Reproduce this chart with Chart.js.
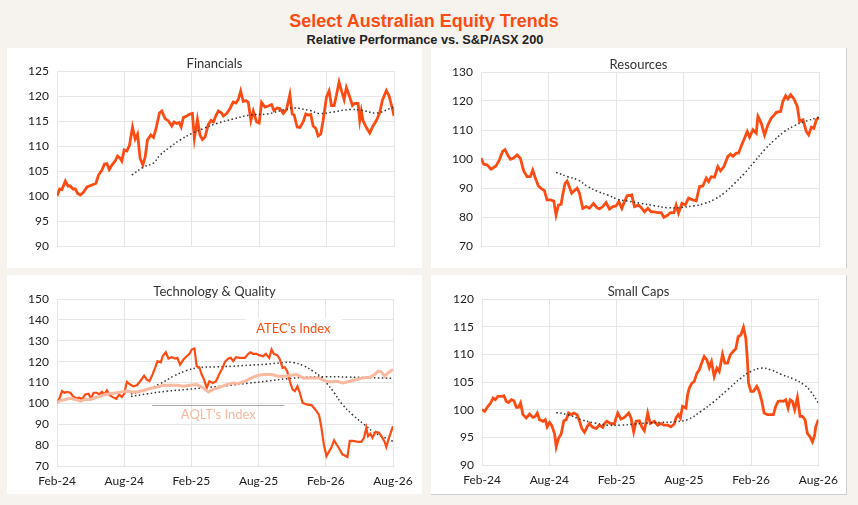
<!DOCTYPE html>
<html>
<head>
<meta charset="utf-8">
<script src="https://cdn.jsdelivr.net/npm/chart.js@4.4.0/dist/chart.umd.min.js"></script>
<style>
  body { margin: 0; background: #f6f3ef; width: 858px; height: 505px; overflow: hidden; position: relative; font-family: Lato, sans-serif; }
  #title { position: absolute; left: 0; width: 848px; top: 11px; text-align: center; font: bold 18px "Liberation Sans", Arial, sans-serif; color: #fc4c14; }
  #subtitle { position: absolute; left: 0; width: 850px; top: 32px; text-align: center; font: bold 12.8px "Liberation Sans", Arial, sans-serif; color: #222; }
  .panel { position: absolute; background: #fff; box-sizing: border-box; }
  .panel canvas { display: block; }
  #p1 { left: 7px; top: 48px; width: 415px; height: 220px; }
  #p2 { left: 431px; top: 48px; width: 416px; height: 220px; border-right: 1px solid #cfcfcf; }
  #p3 { left: 7px; top: 275px; width: 415px; height: 219px; }
  #p4 { left: 431px; top: 275px; width: 416px; height: 220px; border-right: 1px solid #cfcfcf; border-bottom: 1px solid #cfcfcf; }
</style>
</head>
<body>
<div id="title">Select Australian Equity Trends</div>
<div id="subtitle">Relative Performance vs. S&amp;P/ASX 200</div>
<div class="panel" id="p1"><canvas id="c1" width="415" height="220"></canvas></div>
<div class="panel" id="p2"><canvas id="c2" width="415" height="220"></canvas></div>
<div class="panel" id="p3"><canvas id="c3" width="415" height="219"></canvas></div>
<div class="panel" id="p4"><canvas id="c4" width="415" height="219"></canvas></div>
<script>
// x = months since Feb-24
const tickLabels = ["Feb-24", "Aug-24", "Feb-25", "Aug-25", "Feb-26", "Aug-26"];

// Financials
const finMonths = [0,0.24,0.44,0.74,0.98,1.18,1.42,1.63,1.84,2.07,2.37,2.67,3.11,3.46,3.70,4.00,4.23,4.44,4.65,4.89,5.18,5.39,5.63,5.77,5.98,6.22,6.46,6.72,6.96,7.17,7.40,7.64,7.85,8.05,8.35,8.59,8.82,9.12,9.33,9.62,9.92,10.22,10.42,10.66,10.87,11.05,11.25,11.55,11.84,12.05,12.23,12.50,12.73,12.94,13.18,13.47,13.71,13.92,14.15,14.36,14.66,14.81,15.10,15.40,15.69,15.93,16.14,16.35,16.58,16.82,17.03,17.26,17.47,17.77,18.00,18.21,18.51,18.80,19.10,19.31,19.60,19.84,20.14,20.43,20.73,20.94,21.11,21.38,21.62,21.91,22.15,22.36,22.59,22.80,23.04,23.25,23.48,23.69,23.99,24.22,24.43,24.67,24.87,25.11,25.32,25.56,25.76,26.06,26.30,26.50,26.80,26.95,27.09,27.24,27.54,27.84,28.13,28.43,28.72,28.96,29.32,29.55,29.85,30];
const finValues = [100,101.4,101.3,103.0,102.0,102.0,101.4,101.4,100.5,100.2,100.8,101.8,102.2,102.5,104.2,105.2,106.4,106.5,105.3,106.2,107.0,108.0,107.5,107.0,109.2,109.0,110.2,113.8,111.4,112.4,107.5,106.2,107.8,111.2,112.2,111.7,113.5,116.6,117.0,115.5,115.0,114.0,114.8,114.5,114.7,113.8,115.7,116.0,116.4,116.5,111.5,115.3,112.2,111.3,111.8,114.3,115.1,114.8,116.1,117.0,116.6,116.0,116.5,117.5,118.8,118.6,119.3,121.0,118.9,119.1,118.7,115.1,117.0,114.8,114.6,118.7,117.8,118.0,118.3,117.1,117.6,117.5,116.5,117.3,120.3,116.4,116.2,113.8,113.7,114.8,116.4,116.2,116.3,114.0,113.5,112.0,112.4,115.1,119.8,121.0,118.1,118.1,120.1,122.8,121.1,119.3,121.7,119.8,118.1,118.5,118.5,115.1,117.0,115.1,113.7,112.6,114.0,115.1,116.6,119.1,121.1,120.1,117.5,116.0];
const finAvgMonths = [6.66,7.70,8.59,9.18,10.07,10.96,11.99,13.03,14.21,15.69,17.18,18.66,20.14,21.02,22.51,23.39,24.58,26.06,27.24,28.43,30];
const finAvgValues = [104.2,105.8,106.6,108.2,109.8,111.2,112.5,113.5,114.5,115.4,116.2,116.4,117.2,117.6,117.1,116.5,116.8,117.3,117.1,116.6,117.8];

// Resources
const resMonths = [0,0.24,0.53,0.89,1.33,1.63,1.92,2.13,2.37,2.61,2.90,3.20,3.49,3.79,4.09,4.38,4.59,4.80,5.09,5.33,5.63,5.86,6.16,6.46,6.66,6.87,7.11,7.25,7.46,7.64,7.85,8.05,8.29,8.53,8.74,9.03,9.33,9.62,9.98,10.28,10.51,10.81,11.10,11.40,11.70,11.99,12.23,12.50,12.73,12.97,13.38,13.62,13.98,14.21,14.51,14.81,15.10,15.40,15.69,15.99,16.23,16.52,16.82,17.12,17.32,17.53,17.83,18.12,18.42,18.80,19.10,19.40,19.69,19.99,20.20,20.43,20.73,21.02,21.26,21.56,21.91,22.15,22.36,22.65,22.86,23.10,23.33,23.63,23.84,24.13,24.43,24.58,24.87,25.17,25.47,25.76,26.06,26.21,26.59,26.80,27.04,27.24,27.48,27.78,28.07,28.28,28.58,28.87,29.08,29.32,29.55,29.76,30];
const resValues = [100.3,98.2,98.0,96.5,97.6,99.7,102.6,103.2,101.4,99.9,100.3,101.4,100.3,95.9,93.9,93.9,96.2,93.7,90.7,89.9,89.1,85.9,85.9,85.5,80.7,84.1,84.4,87.6,91.6,92.4,90.3,88.2,89.1,89.9,88.2,83.0,83.6,83.0,84.7,83.2,82.8,83.6,85.0,82.7,83.6,83.8,85.3,83.0,85.3,87.3,87.6,83.6,84.1,83.3,81.8,83.0,81.8,81.8,81.5,81.5,79.9,80.5,81.5,81.5,84.1,81.3,84.7,84.1,86.5,85.9,85.6,90.5,90.7,93.4,92.2,93.9,93.7,97.4,95.9,97.4,100.9,101.7,100.9,102.0,102.0,104.5,106.6,109.5,107.5,110.1,108.9,114.7,112.4,108.3,111.8,114.1,115.3,116.1,116.4,119.9,121.8,120.7,122.2,120.7,118.1,112.9,113.5,109.5,108.3,111.0,110.6,113.5,114.3];
const resAvgMonths = [6.66,7.70,8.59,9.48,10.36,11.25,12.14,13.03,14.21,15.40,16.58,17.77,18.95,19.84,20.73,21.62,22.51,23.39,24.28,25.17,26.06,26.95,27.84,28.72,30];
const resAvgValues = [95.4,93.9,92.8,90.5,88.8,87.6,86.1,85.5,84.7,83.9,83.2,83.3,83.9,84.7,86.1,88.4,91.6,95.1,99.1,103.2,106.6,109.5,111.5,112.9,114.4];

// Technology & Quality
const atecMonths = [0,0.24,0.45,0.65,0.89,1.19,1.43,1.72,2.02,2.23,2.52,2.82,3.03,3.27,3.56,3.77,4.01,4.22,4.46,4.69,4.99,5.29,5.55,5.79,6.00,6.24,6.53,6.83,7.13,7.43,7.78,8.02,8.26,8.55,8.76,8.97,9.27,9.44,9.71,9.95,10.25,10.54,10.75,10.99,11.29,11.58,11.82,12.03,12.27,12.47,12.71,12.92,13.13,13.37,13.60,13.90,14.20,14.49,14.79,15.00,15.30,15.51,15.74,15.98,16.28,16.78,17.08,17.29,17.52,17.82,18.06,18.41,18.65,18.95,19.16,19.36,19.66,19.90,20.14,20.34,20.55,20.79,21.03,21.24,21.47,21.68,21.92,22.28,22.72,22.93,23.17,23.40,23.61,23.82,24.06,24.35,24.50,24.74,24.95,25.19,25.48,25.78,25.93,26.14,26.43,26.88,27.18,27.41,27.62,27.77,27.98,28.16,28.45,28.75,28.96,29.25,29.40,29.64,30];
const atecValues = [100.3,102.7,105.9,105.1,105.5,105.1,103.5,102.4,102.7,101.9,104.3,104.6,102.4,105.1,105.1,104.3,105.5,104.3,106.2,103.9,103.0,102.2,104.3,103.0,104.6,110.3,109.0,108.2,108.7,110.6,113.3,111.4,110.6,114.1,117.0,120.2,119.7,122.6,124.5,121.5,122.1,121.5,121.8,118.6,121.0,122.6,123.7,125.8,126.3,117.8,117.3,113.8,111.4,107.4,110.6,109.8,110.6,114.1,117.0,119.9,121.5,121.8,120.2,122.1,121.8,121.8,123.7,124.5,123.7,123.7,123.1,122.6,123.7,121.8,125.8,123.7,123.1,121.0,117.0,117.3,115.4,110.6,106.7,105.9,108.2,105.1,100.3,99.5,99.2,97.9,96.3,94.4,88.3,80.4,74.8,77.5,78.8,82.3,80.4,78.4,75.6,74.8,74.3,82.0,82.0,81.6,81.6,83.5,88.3,84.3,85.5,83.5,86.4,85.9,84.3,81.6,79.1,83.5,89.1];
const aqltMonths = [0,0.30,0.74,1.19,1.63,2.08,2.52,2.97,3.42,3.86,4.31,4.75,5.35,5.79,6.24,6.68,7.13,7.72,8.32,8.91,9.50,10.10,10.69,11.29,11.88,12.47,13.07,13.51,13.96,14.55,15.15,15.74,16.19,16.78,17.37,17.97,18.56,19.16,19.75,20.34,20.94,21.39,21.98,22.57,23.32,23.91,24.35,24.95,25.54,26.14,26.73,27.32,27.92,28.36,28.66,28.96,29.25,29.55,30];
const aqltValues = [100.3,101.4,101.9,102.4,101.9,101.1,101.9,101.9,102.7,103.5,104.3,104.6,105.1,105.5,105.9,105.5,105.5,106.2,107.1,107.8,108.7,108.7,108.7,108.2,108.7,109.0,107.4,105.5,106.7,107.8,109.0,109.8,109.4,110.6,112.2,113.5,113.8,113.8,113.0,113.0,113.5,113.8,112.2,112.2,112.2,110.9,110.3,110.6,109.8,110.6,111.4,112.2,112.5,113.8,115.4,115.1,113.0,114.6,116.2];
const atecAvgMonths = [6.6,8.0,9.2,10.4,11.6,12.6,14.3,15.7,17.2,18.7,20.2,21.1,22.0,22.9,23.6,24.1,24.7,25.4,26.4,27.5,28.2,29.1,30];
const atecAvgValues = [104.5,106.5,109.4,113.0,115.8,117.1,117.5,117.8,118.3,118.8,119.5,119.6,118.0,115.3,112.5,109.5,105.5,100.0,94.5,89.6,86.5,84.0,81.8];
const aqltAvgMonths = [6.6,8.0,9.8,11.6,13.4,15.2,17.0,18.8,20.5,22.0,24.0,26.0,28.0,30];
const aqltAvgValues = [103.3,104.5,105.8,106.7,107.6,108.5,109.6,110.7,111.8,112.5,112.8,112.6,112.3,112.0];

// Small Caps
const smMonths = [0,0.24,0.53,0.77,0.98,1.19,1.42,1.72,1.96,2.17,2.37,2.61,2.85,3.06,3.26,3.44,3.65,3.95,4.24,4.54,4.75,4.93,5.13,5.43,5.64,5.82,6.02,6.23,6.47,6.62,6.82,7.06,7.30,7.51,7.72,7.95,8.19,8.49,8.69,8.90,9.14,9.38,9.58,9.88,10.18,10.47,10.77,10.92,11.13,11.45,11.81,11.96,12.11,12.40,12.70,13.09,13.29,13.53,13.74,14.04,14.27,14.48,14.78,15.01,15.37,15.67,15.96,16.26,16.56,16.85,17.15,17.30,17.51,17.69,17.89,18.19,18.34,18.49,18.72,18.93,19.17,19.38,19.58,19.82,20.06,20.27,20.47,20.71,20.95,21.16,21.45,21.66,21.90,22.14,22.43,22.64,22.85,23.09,23.32,23.53,23.68,23.77,23.98,24.21,24.51,24.72,24.96,25.16,25.46,25.76,25.99,26.20,26.41,26.65,26.88,27.09,27.30,27.48,27.69,27.89,28.13,28.37,28.58,28.81,29.02,29.26,29.47,29.67,29.76,30];
const smValues = [100.0,99.7,100.6,101.2,102.1,101.8,102.4,102.4,102.5,101.5,101.3,101.8,101.6,100.4,100.4,101.2,99.1,98.5,99.2,98.6,98.8,99.4,98.2,97.9,98.2,96.9,97.7,97.1,95.7,93.3,94.8,95.6,98.0,98.2,99.4,99.1,99.4,99.1,98.0,96.6,95.9,96.9,97.5,96.8,96.6,97.2,96.8,97.5,97.9,97.5,97.4,98.5,99.4,98.3,98.6,99.4,98.5,96.0,97.9,98.0,96.8,96.2,99.4,97.5,97.9,97.2,97.5,97.2,97.2,96.9,97.4,98.5,99.1,98.5,100.6,100.3,102.7,103.9,104.8,105.1,106.6,107.2,108.4,109.6,109.0,107.6,108.7,106.0,107.5,106.9,110.0,108.4,108.4,109.9,110.6,111.0,113.2,113.5,114.9,112.9,108.7,104.8,103.3,103.3,104.2,103.3,101.5,99.4,99.1,99.1,99.1,100.6,101.5,101.6,101.5,101.8,100.3,101.8,101.5,100.0,102.2,98.8,98.8,98.2,95.7,95.1,94.2,95.4,96.9,98.2];
const smAvgMonths = [6.62,7.66,8.84,10.03,11.22,12.40,13.59,14.78,15.96,17.15,18.34,19.53,20.71,21.90,23.09,23.98,24.87,25.76,26.65,27.83,28.72,29.32,30];
const smAvgValues = [99.5,99.1,98.2,97.6,97.2,97.2,97.4,97.6,97.7,97.8,98.2,99.7,101.5,103.6,105.7,106.9,107.5,107.2,106.4,105.5,104.5,103.3,101.2];

const ORANGE = "#fc4c14";
const SALMON = "#f9b8a0";
const FONT = "Lato, 'Open Sans', sans-serif";

const toPoints = (xs, ys) => xs.map((x, i) => ({ x: x, y: ys[i] }));

const mainLine = (xs, ys, color, width) => ({
  data: toPoints(xs, ys), borderColor: color, borderWidth: width,
  pointRadius: 0, tension: 0, fill: false
});
const avgLine = (xs, ys) => ({
  data: toPoints(xs, ys), borderColor: "#333", borderWidth: 1.5,
  borderDash: [1.5, 2.5], pointRadius: 0, tension: 0.4, fill: false
});

// panel title drawn over the top of the chart area
const panelTitle = {
  id: "panelTitle",
  afterDraw(chart, args, opts) {
    const ctx = chart.ctx;
    ctx.save();
    ctx.font = "13px " + FONT;
    ctx.fillStyle = "#333";
    ctx.textAlign = "center";
    ctx.textBaseline = "middle";
    ctx.fillText(opts.text, chart.width / 2, chart.chartArea.top - 7);
    ctx.restore();
  }
};

// text labels for the tech chart
const techLabels = {
  id: "techLabels",
  afterDatasetsDraw(chart) {
    const ctx = chart.ctx;
    const xs = chart.scales.x, ys = chart.scales.y;
    ctx.save();
    // white box behind ATEC's label
    const bx1 = xs.getPixelForValue(16.8), bx2 = xs.getPixelForValue(25.4);
    const by1 = ys.getPixelForValue(141), by2 = ys.getPixelForValue(130.5);
    ctx.fillStyle = "#fff";
    ctx.fillRect(bx1, by1, bx2 - bx1, by2 - by1);
    ctx.font = "13px " + FONT;
    ctx.textAlign = "center";
    ctx.textBaseline = "middle";
    ctx.fillStyle = ORANGE;
    ctx.fillText("ATEC's Index", xs.getPixelForValue(21.1), ys.getPixelForValue(135.6));
    // AQLT label with line above
    ctx.strokeStyle = "#a8a8a8";
    ctx.lineWidth = 1;
    ctx.beginPath();
    const ly = Math.round(ys.getPixelForValue(99.1)) + 0.5;
    ctx.moveTo(xs.getPixelForValue(8.5), ly);
    ctx.lineTo(xs.getPixelForValue(20.3), ly);
    ctx.stroke();
    ctx.fillStyle = SALMON;
    ctx.fillText("AQLT's Index", xs.getPixelForValue(14.4), ys.getPixelForValue(94.3));
    ctx.restore();
  }
};

const makeChart = (id, title, datasets, yMin, yMax, yStep, showX, pad) => {
  return new Chart(document.getElementById(id), {
    type: "line",
    data: { datasets: datasets },
    options: {
      responsive: false,
      animation: false,
      layout: { padding: pad },
      plugins: {
        legend: { display: false },
        tooltip: { enabled: false },
        panelTitle: { text: title }
      },
      scales: {
        x: {
          type: "linear", min: 0, max: 30,
          afterFit: s => { s.height = showX ? 28 : 0; },
          ticks: {
            display: showX, stepSize: 6, padding: 8,
            color: "#222", font: { family: FONT, size: 12 },
            callback: v => tickLabels[v / 6]
          },
          grid: { color: "#e6e6e6", drawTicks: false },
          border: { color: "#e6e6e6" }
        },
        y: {
          min: yMin, max: yMax,
          afterFit: s => { s.width = 50; },
          ticks: {
            stepSize: yStep, padding: 8,
            color: "#222", font: { family: FONT, size: 12 }
          },
          grid: { color: "#e6e6e6", drawTicks: false },
          border: { color: "#e6e6e6" }
        }
      }
    },
    plugins: id === "c3" ? [panelTitle, techLabels] : [panelTitle]
  });
};

makeChart("c1", "Financials", [
  avgLine(finAvgMonths, finAvgValues),
  mainLine(finMonths, finValues, ORANGE, 2.8)
], 90, 125, 5, false, { left: 0, right: 28, top: 23, bottom: 22 });

makeChart("c2", "Resources", [
  avgLine(resAvgMonths, resAvgValues),
  mainLine(resMonths, resValues, ORANGE, 2.8)
], 70, 130, 10, false, { left: 0, right: 27, top: 24, bottom: 22 });

makeChart("c3", "Technology & Quality", [
  mainLine(aqltMonths, aqltValues, SALMON, 3),
  mainLine(atecMonths, atecValues, ORANGE, 2.2),
  avgLine(atecAvgMonths, atecAvgValues),
  avgLine(aqltAvgMonths, aqltAvgValues)
], 70, 150, 10, true, { left: 0, right: 29, top: 24, bottom: 0 });

makeChart("c4", "Small Caps", [
  avgLine(smAvgMonths, smAvgValues),
  mainLine(smMonths, smValues, ORANGE, 2.8)
], 90, 120, 5, true, { left: 1, right: 27, top: 24, bottom: 1 });
</script>
</body>
</html>
